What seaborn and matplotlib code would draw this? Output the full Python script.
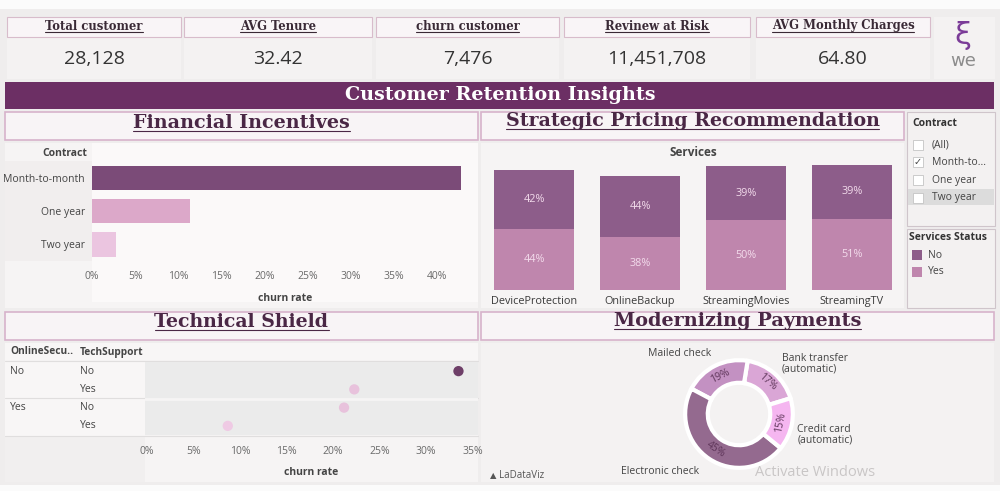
import matplotlib
matplotlib.use("Agg")
import matplotlib.pyplot as plt
import matplotlib.transforms as mtransforms
from matplotlib.patches import Rectangle
from matplotlib.lines import Line2D
import seaborn as sns
import pandas as pd
import numpy as np

# KPI cards
kpi_titles = ["Total customer", "AVG Tenure", "churn customer", "Revinew at Risk", "AVG Monthly Charges"]
kpi_values = ["28,128", "32.42", "7,476", "11,451,708", "64.80"]

# Financial Incentives: churn rate by contract
contracts = ["Month-to-month", "One year", "Two year"]
contract_churn = [42.7, 11.3, 2.8]

# Strategic Pricing: churn share by service status
services = ["DeviceProtection", "OnlineBackup", "StreamingMovies", "StreamingTV"]
share_no = [42, 44, 39, 39]
share_yes = [44, 38, 50, 51]

# Technical Shield
online_security = ["No", "No", "Yes", "Yes"]
tech_support = ["No", "Yes", "No", "Yes"]
tech_churn = [33.5, 22.3, 21.2, 8.7]

# Modernizing Payments
pay_methods = ["Bank transfer\n(automatic)", "Mailed check", "Electronic check", "Credit card\n(automatic)"]
pay_share = [17, 19, 45, 15]

contract_filter = ["(All)", "Month-to...", "One year", "Two year"]

sns.set_theme(style="white")
plt.rcParams["font.family"] = ["Open Sans", "DejaVu Sans"]

W, H = 1000, 491
fig = plt.figure(figsize=(10, 4.91), dpi=100)
fig.patch.set_facecolor("#efeded")

SERIF = "DejaVu Serif"
TITLE_C = "#4a2745"
C_NO = "#8d5d8a"
C_YES = "#bf86ad"


def rect(x0, y0, x1, y1, fc, ec="none", lw=0.8, z=-2):
    fig.patches.append(Rectangle((x0 / W, 1 - y1 / H), (x1 - x0) / W, (y1 - y0) / H,
                                 transform=fig.transFigure, facecolor=fc, edgecolor=ec,
                                 linewidth=lw, zorder=z))


def txt(x, y, s, **kw):
    kw.setdefault("va", "center")
    kw.setdefault("ha", "center")
    return fig.text(x / W, 1 - y / H, s, **kw)


def hline(x0, x1, y, color, lw=0.8, z=-1):
    fig.lines.append(Line2D([x0 / W, x1 / W], [1 - y / H] * 2, transform=fig.transFigure,
                            color=color, lw=lw, zorder=z))


def axpx(x0, y0, x1, y1):
    return fig.add_axes([x0 / W, 1 - y1 / H, (x1 - x0) / W, (y1 - y0) / H])


underlined = []
fitted = []

# page strips
rect(0, 0, 1000, 9, "#fbfbfb")
rect(0, 485, 1000, 491, "#fbfbfb")

# KPI cards
kpi_x = [(7, 181), (184, 372), (376, 559), (564, 750), (756, 930)]
for (x0, x1), t, v in zip(kpi_x, kpi_titles, kpi_values):
    rect(x0, 38, x1, 79, "#f4f2f2")
    rect(x0, 17, x1, 37, "#f9f5f7", ec="#d8bccb")
    underlined.append(txt((x0 + x1) / 2, 26, t, family=SERIF, fontweight="bold",
                          fontsize=8.4, color="#3a2a36"))
    txt((x0 + x1) / 2, 59, v, fontsize=14, color="#333333")

rect(934, 17, 995, 79, "#f4f2f2")
txt(963, 36, "ξ", fontsize=22, color="#7b3c98", family="DejaVu Sans")
txt(963, 61, "we", fontsize=13, color="#8c8c8c", family="DejaVu Sans")

# banner
rect(5, 82, 994, 109, "#6c2f64")
fitted.append((txt(500, 95, "Customer Retention Insights", family=SERIF, fontweight="bold",
                   fontsize=14, color="white"), 311))

# section title boxes
titles = [((5, 112, 478, 140), "Financial Incentives", 217, 123),
          ((481, 112, 904, 140), "Strategic Pricing Recommendation", 375, 121),
          ((5, 312, 478, 340), "Technical Shield", 175, 322),
          ((481, 312, 994, 340), "Modernizing Payments", 248, 321)]
for (x0, y0, x1, y1), s, w, yc in titles:
    rect(x0, y0, x1, y1, "#f8f4f6", ec="#d7b3cb", lw=1.2)
    t = txt((x0 + x1) / 2, yc, s, family=SERIF, fontweight="bold", fontsize=14, color=TITLE_C)
    fitted.append((t, w))
    underlined.append(t)

# panels
rect(5, 143, 478, 308, "#f6f4f4")
rect(92, 143, 478, 302, "#fbf9f9")
rect(5, 161, 92, 261, "#f1eeee")
rect(481, 143, 904, 308, "#f6f4f4")
rect(5, 343, 478, 482, "#f6f4f4")
rect(481, 343, 994, 482, "#f4f2f2")
rect(907, 112, 995, 226, "#f3f1f1", ec="#cfc5cb")
rect(907, 229, 995, 308, "#f3f1f1", ec="#cfc5cb")

# ---- Financial Incentives ----
fin = pd.DataFrame({"Contract": contracts, "churn": contract_churn})
ax1 = axpx(92, 161, 478, 261)
ax1.set_facecolor("none")
sns.barplot(data=fin, x="churn", y="Contract", hue="Contract", orient="h",
            palette=["#7b4b78", "#dca8c9", "#ebc5e0"], saturation=1, width=0.73,
            legend=False, linewidth=0, ax=ax1)
ax1.set_xlim(0, 44.7)
ax1.set_ylim(2.5, -0.5)
ax1.set_xticks(range(0, 45, 5))
ax1.set_xticklabels([f"{v}%" for v in range(0, 45, 5)])
ax1.tick_params(axis="x", length=0, pad=7, labelsize=7.5, labelcolor="#6a6a6a")
ax1.tick_params(axis="y", length=0, pad=5, labelsize=7.5, labelcolor="#444444")
ax1.set_ylabel("")
ax1.set_xlabel("churn rate", fontsize=7.5, fontweight="bold", color="#444444", labelpad=8)
sns.despine(ax=ax1, left=True, bottom=True)
txt(87, 153, "Contract", ha="right", fontsize=7.5, fontweight="bold", color="#444444")

# ---- Strategic Pricing ----
svc = pd.DataFrame({"Service": services, "no": share_no, "yes": share_yes})
svc["total"] = svc["no"] + svc["yes"]
ax2 = axpx(481, 160, 905, 290)
ax2.set_facecolor("none")
sns.barplot(data=svc, x="Service", y="total", color=C_NO, saturation=1, width=0.755,
            linewidth=0, ax=ax2)
sns.barplot(data=svc, x="Service", y="yes", color=C_YES, saturation=1, width=0.755,
            linewidth=0, ax=ax2)
for i, r in svc.iterrows():
    ax2.text(i, r["yes"] + r["no"] / 2, f"{r['no']}%", ha="center", va="center",
             fontsize=7.8, color="#f3dcec")
    ax2.text(i, r["yes"] / 2, f"{r['yes']}%", ha="center", va="center",
             fontsize=7.8, color="#f3dcec")
ax2.set_ylim(0, 93.5)
ax2.set_xlim(-0.5, 3.5)
ax2.set_yticks([])
ax2.set_xlabel("")
ax2.set_ylabel("")
ax2.tick_params(axis="x", length=0, pad=4, labelsize=7.8, labelcolor="#3a3a3a")
sns.despine(ax=ax2, left=True, bottom=True)
txt(693, 152, "Services", fontsize=8.5, fontweight="bold", color="#444444")

# filter + legend
txt(912, 123, "Contract", ha="left", fontsize=7.5, fontweight="bold", color="#333333")
rect(908, 189, 994, 205, "#dcdcdc", z=-1)
for i, lab in enumerate(contract_filter):
    yc = 145 + i * 17.5
    rect(913, yc - 5, 923, yc + 5, "white", ec="#c4c4c4", lw=0.6, z=0)
    txt(932, yc, lab, ha="left", fontsize=7.5, color="#444444")
txt(918, 162, "✓", fontsize=7, color="#444444", family="DejaVu Sans", zorder=3)
txt(909, 238, "Services Status", ha="left", fontsize=7.5, fontweight="bold", color="#333333")
rect(912, 250, 922, 260, C_NO, z=0)
txt(928, 255, "No", ha="left", fontsize=7.5, color="#444444")
rect(912, 267, 922, 277, C_YES, z=0)
txt(928, 272, "Yes", ha="left", fontsize=7.5, color="#444444")

# ---- Technical Shield ----
rect(5, 343, 478, 360, "#f8f6f6")
rect(5, 361, 145, 436, "#f8f6f6")
rect(5, 436, 145, 482, "#f1efef")
for yl in (361, 398, 436):
    hline(5, 478, yl, "#e0dede")
tech = pd.DataFrame({"row": [f"{a}|{b}" for a, b in zip(online_security, tech_support)],
                     "churn": tech_churn})
tech["lvl"] = ["a", "b", "b", "c"]
ax3 = axpx(145, 362, 478, 435)
ax3.set_facecolor("#ebebeb")
sns.scatterplot(data=tech, x="churn", y="row", hue="lvl",
                palette={"a": "#6e3f68", "b": "#e8c2dc", "c": "#efcae4"},
                s=55, edgecolor="none", legend=False, ax=ax3, zorder=3)
ax3.set_xlim(-0.2, 35.6)
ax3.set_ylim(3.5, -0.5)
ax3.axhline(1.5, color="#f6f4f4", lw=2)
ax3.set_yticks([])
ax3.set_xticks(range(0, 40, 5))
ax3.set_xticklabels([f"{v}%" for v in range(0, 40, 5)])
ax3.tick_params(axis="x", length=0, pad=8, labelsize=7.5, labelcolor="#6a6a6a")
ax3.set_ylabel("")
ax3.set_xlabel("churn rate", fontsize=7.5, fontweight="bold", color="#444444", labelpad=7)
sns.despine(ax=ax3, left=True, bottom=True)
blend = mtransforms.blended_transform_factory(fig.transFigure, ax3.transData)
for i, (a, b) in enumerate(zip(online_security, tech_support)):
    if i == 0 or online_security[i - 1] != a:
        ax3.text(10 / W, i, a, transform=blend, ha="left", va="center", fontsize=7.5,
                 color="#444444", clip_on=False)
    ax3.text(80 / W, i, b, transform=blend, ha="left", va="center", fontsize=7.5,
             color="#444444", clip_on=False)
txt(10, 352, "OnlineSecu..", ha="left", fontsize=7.3, fontweight="bold", color="#444444")
txt(80, 352, "TechSupport", ha="left", fontsize=7.3, fontweight="bold", color="#444444")

# ---- Modernizing Payments ----
ax4 = axpx(669, 344, 809, 484)
ax4.set_facecolor("none")
wedges, _ = ax4.pie(pay_share, startangle=17, counterclock=True,
                    colors=["#daa6d6", "#c391c2", "#946a8f", "#f5b6f0"],
                    wedgeprops=dict(width=0.42, edgecolor="white", linewidth=3))
ax4.set_xlim(-1.3, 1.3)
ax4.set_ylim(-1.3, 1.3)
ax4.set_aspect("equal")
for w, v in zip(wedges, pay_share):
    ang = (w.theta1 + w.theta2) / 2
    rot = ang - 90
    while rot > 90:
        rot -= 180
    while rot < -90:
        rot += 180
    r = 0.79
    ax4.text(r * np.cos(np.radians(ang)), r * np.sin(np.radians(ang)), f"{v}%",
             rotation=rot, ha="center", va="center", fontsize=7.5, color="#5e3559")
lab_pos = {"Bank transfer\n(automatic)": (0.80, 0.93, "left"),
           "Mailed check": (-1.10, 1.12, "center"),
           "Electronic check": (-1.47, -1.06, "center"),
           "Credit card\n(automatic)": (1.08, -0.39, "left")}
for m in pay_methods:
    x, y, ha = lab_pos[m]
    ax4.text(x, y, m, ha=ha, va="center", fontsize=7.5, color="#444444", linespacing=0.95,
             clip_on=False)

txt(490, 476, "▲", ha="left", fontsize=6, color="#555555", family="DejaVu Sans")
txt(499, 476, "LaDataViz", ha="left", fontsize=7, color="#555555")
txt(815, 473, "Activate Windows", fontsize=10.5, color="#c9c6c6")

# fit title widths, then underline
fig.canvas.draw()
for t, target in fitted:
    w = t.get_window_extent().width
    t.set_fontsize(t.get_fontsize() * target / w)
fig.canvas.draw()
for t in underlined:
    bb = t.get_window_extent().transformed(fig.transFigure.inverted())
    y = bb.y0 + 1.0 / H
    fig.lines.append(Line2D([bb.x0, bb.x1], [y, y], transform=fig.transFigure,
                            color=t.get_color(), lw=0.8, zorder=5))

fig.savefig("out.png", dpi=100, facecolor=fig.get_facecolor())
